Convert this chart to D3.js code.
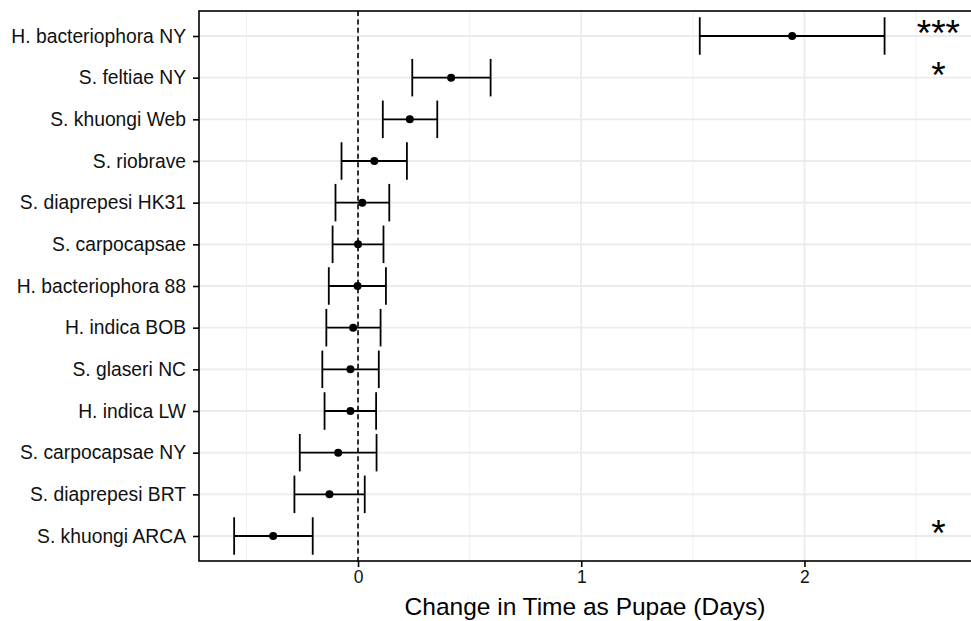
<!DOCTYPE html>
<html>
<head>
<meta charset="utf-8">
<script src="https://cdn.jsdelivr.net/npm/d3@7"></script>
<style>
  html, body { margin: 0; padding: 0; background: #fff; }
  svg { display: block; }
</style>
</head>
<body>
<svg id="chart" width="971" height="621"></svg>
<script>
// ---- data (top to bottom) ----
const categories = [
  "H. bacteriophora NY", "S. feltiae NY", "S. khuongi Web", "S. riobrave",
  "S. diaprepesi HK31", "S. carpocapsae", "H. bacteriophora 88", "H. indica BOB",
  "S. glaseri NC", "H. indica LW", "S. carpocapsae NY", "S. diaprepesi BRT",
  "S. khuongi ARCA"
];
const estimates = [1.945, 0.417, 0.232, 0.073, 0.019, 0.0, -0.002, -0.022, -0.034, -0.034, -0.089, -0.128, -0.380];
const lowerCI   = [1.531, 0.243, 0.111, -0.074, -0.101, -0.114, -0.131, -0.142, -0.160, -0.150, -0.261, -0.285, -0.555];
const upperCI   = [2.359, 0.594, 0.355, 0.219, 0.140, 0.114, 0.125, 0.101, 0.093, 0.081, 0.083, 0.030, -0.203];
const significance = ["***", "*", "", "", "", "", "", "", "", "", "", "", "*"];
const xTicks = [0, 1, 2];
const xMinor = [-0.5, 0.5, 1.5, 2.5];
const xLabel = "Change in Time as Pupae (Days)";
const starX = 2.6;

(function () {
// ---- layout ----
const svg = d3.select("#chart");
const pL = 199, pR = 972, pT = 11, pB = 561;

const x = d3.scaleLinear().domain([-0.7125, 2.7507]).range([pL, pR]);
const y = d3.scalePoint().domain(categories).range([pT, pB]).padding(0.6);
const step = y.step();

const data = categories.map((c, i) => ({
  cat: c, est: estimates[i], lo: lowerCI[i], hi: upperCI[i], sig: significance[i]
}));

// panel background grid
const grid = svg.append("g");
grid.selectAll(".minor").data(xMinor).join("line")
  .attr("x1", d => x(d)).attr("x2", d => x(d))
  .attr("y1", pT).attr("y2", pB)
  .attr("stroke", "#f0f0f0").attr("stroke-width", 1);
grid.selectAll(".majx").data(xTicks).join("line")
  .attr("x1", d => x(d)).attr("x2", d => x(d))
  .attr("y1", pT).attr("y2", pB)
  .attr("stroke", "#ebebeb").attr("stroke-width", 1.8);
grid.selectAll(".majy").data(categories).join("line")
  .attr("x1", pL).attr("x2", pR)
  .attr("y1", d => y(d)).attr("y2", d => y(d))
  .attr("stroke", "#ebebeb").attr("stroke-width", 1.8);

// dashed zero line
svg.append("line")
  .attr("x1", x(0)).attr("x2", x(0))
  .attr("y1", pT).attr("y2", pB)
  .attr("stroke", "#000").attr("stroke-width", 1.6)
  .attr("stroke-dasharray", "5,3.4");

// error bars
const eb = svg.append("g").attr("stroke", "#000").attr("stroke-width", 1.8);
const halfW = step * 0.45;
eb.selectAll(".h").data(data).join("line")
  .attr("x1", d => x(d.lo)).attr("x2", d => x(d.hi))
  .attr("y1", d => y(d.cat)).attr("y2", d => y(d.cat));
eb.selectAll(".l").data(data).join("line")
  .attr("x1", d => x(d.lo)).attr("x2", d => x(d.lo))
  .attr("y1", d => y(d.cat) - halfW).attr("y2", d => y(d.cat) + halfW);
eb.selectAll(".r").data(data).join("line")
  .attr("x1", d => x(d.hi)).attr("x2", d => x(d.hi))
  .attr("y1", d => y(d.cat) - halfW).attr("y2", d => y(d.cat) + halfW);

// points
svg.append("g").selectAll("circle").data(data).join("circle")
  .attr("cx", d => x(d.est)).attr("cy", d => y(d.cat))
  .attr("r", 4).attr("fill", "#000");

// significance stars
svg.append("g").selectAll("text").data(data.filter(d => d.sig)).join("text")
  .attr("x", x(starX)).attr("y", d => y(d.cat) + 10)
  .attr("text-anchor", "middle")
  .attr("font-family", "Liberation Sans, Arial, sans-serif")
  .attr("font-size", 37)
  .attr("fill", "#000")
  .text(d => d.sig);

// panel border
svg.append("rect")
  .attr("x", pL).attr("y", pT)
  .attr("width", pR - pL).attr("height", pB - pT)
  .attr("fill", "none").attr("stroke", "#000").attr("stroke-width", 1.6);

// x axis
const xAxis = svg.append("g").attr("transform", `translate(0,${pB})`)
  .call(d3.axisBottom(x).tickValues(xTicks).tickSize(6).tickPadding(4).tickFormat(d3.format("d")));
xAxis.select(".domain").remove();
xAxis.selectAll(".tick line").attr("stroke", "#000").attr("stroke-width", 1.6);
xAxis.selectAll(".tick text")
  .attr("font-family", "Liberation Sans, Arial, sans-serif")
  .attr("font-size", 17.5).attr("fill", "#111");

// y axis
const yAxis = svg.append("g").attr("transform", `translate(${pL},0)`)
  .call(d3.axisLeft(y).tickSize(6).tickPadding(7));
yAxis.select(".domain").remove();
yAxis.selectAll(".tick line").attr("stroke", "#000").attr("stroke-width", 1.6);
yAxis.selectAll(".tick text")
  .attr("font-family", "Liberation Sans, Arial, sans-serif")
  .attr("font-size", 19.3).attr("fill", "#111");

// x label
svg.append("text")
  .attr("x", 585).attr("y", 615)
  .attr("text-anchor", "middle")
  .attr("font-family", "Liberation Sans, Arial, sans-serif")
  .attr("font-size", 24.5).attr("fill", "#000")
  .text(xLabel);
})();
</script>
</body>
</html>
